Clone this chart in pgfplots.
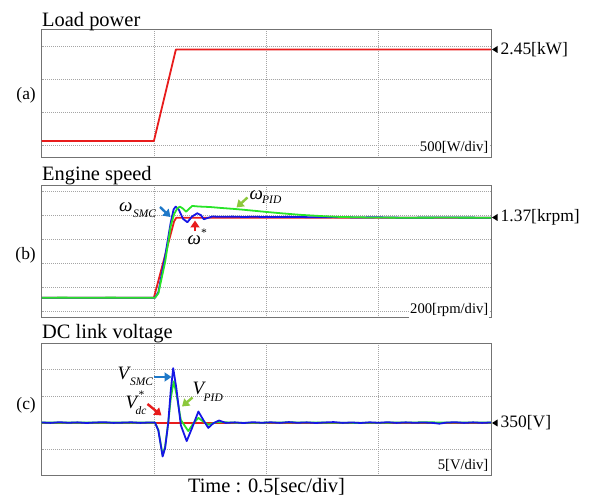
\documentclass[border=0pt]{standalone}
\usepackage{fontspec}
\setmainfont{Liberation Serif}
\usepackage{pgfplots}
\pgfplotsset{compat=1.18}
\usetikzlibrary{arrows.meta}
\definecolor{tred}{RGB}{232,28,28}
\definecolor{tblue}{RGB}{22,22,230}
\definecolor{tgreen}{RGB}{40,228,40}
\definecolor{ablue}{RGB}{30,120,200}
\definecolor{agreen}{RGB}{140,200,60}
\definecolor{boxgray}{RGB}{115,115,115}
\definecolor{gridgray}{RGB}{165,165,165}
\pgfplotsset{
  osc/.style={
    scale only axis, width=449.5bp, anchor=south west,
    xmin=0, xmax=2, xtick={0.5,1,1.5},
    xticklabels={}, yticklabels={},
    tick label style={opacity=0},
    tick style={draw=none},
    grid=major,
    major grid style={gridgray, dash pattern=on 0.6pt off 1.4pt, line width=0.6pt},
    axis line style={boxgray, line width=0.9pt},
  },
  tr/.style={line width=1.8pt, line join=round},
}
\newcommand\tfont{\fontsize{20.5}{22}\selectfont}
\newcommand\rfont{\fontsize{17.5}{19}\selectfont}
\newcommand\dfont{\fontsize{14.7}{16}\selectfont}
\newcommand\gfont{\fontsize{19}{20}\selectfont\itshape}
\newcommand\sfont{\fontsize{11.5}{12}\selectfont\itshape}
\tikzset{ann/.style={line width=2.4bp, -{Triangle[length=7bp,width=9bp]}}}
\begin{document}
\begin{tikzpicture}[x=1bp,y=1bp]
\path[use as bounding box] (0,0) rectangle (592,497);

% ---------- (a) Load power ----------
\begin{axis}[osc, at={(41.5bp,339.7bp)}, height=128bp, ymin=0.814, ymax=2.755, ytick={1,1.5,2,2.5}]
\addplot[tr, tred] coordinates {(0,1.06) (0.5,1.06) (0.598,2.45) (2,2.45)};
\end{axis}

% ---------- (b) Engine speed ----------
\begin{axis}[osc, at={(41.5bp,179.5bp)}, height=132.5bp, ymin=0.5383, ymax=1.6425,
  ytick={0.588,0.788,0.988,1.188,1.388,1.588}]
\addplot[tr, tred] coordinates {(0,0.703) (0.5,0.703) (0.59,1.34) (0.6,1.37) (2,1.37)};
\addplot[tr, tblue] coordinates {
(0,0.703) (0.505,0.703) (0.52,0.75) (0.55,1.05) (0.575,1.33) (0.588,1.44) (0.597,1.462)
(0.61,1.44) (0.63,1.36) (0.649,1.332) (0.67,1.38) (0.693,1.407) (0.71,1.39) (0.722,1.357)
(0.74,1.368) (0.76,1.38) (0.8,1.377) (0.85,1.379) (0.9,1.376) (0.95,1.378) (1.0,1.375)
(1.1,1.377) (1.2,1.374) (1.3,1.375) (1.4,1.372) (1.5,1.373) (1.6,1.37) (1.8,1.371) (2,1.37)};
\addplot[tr, tgreen] coordinates {
(0,0.703) (0.1,0.704) (0.2,0.702) (0.3,0.704) (0.4,0.703) (0.505,0.703) (0.52,0.74)
(0.55,1.0) (0.575,1.3) (0.59,1.40) (0.605,1.45) (0.616,1.462) (0.63,1.445) (0.643,1.42)
(0.657,1.445) (0.671,1.468) (0.7,1.463) (0.75,1.459) (0.8,1.451) (0.85,1.444) (0.9,1.436)
(0.95,1.427) (1.0,1.418) (1.065,1.407) (1.15,1.394) (1.25,1.383) (1.33,1.376) (1.45,1.372)
(1.6,1.370) (1.8,1.371) (2,1.370)};
\end{axis}

% ---------- (c) DC link voltage ----------
\begin{axis}[osc, at={(41.5bp,21.5bp)}, height=132.2bp, ymin=340, ymax=365, ytick={345,350,355,360}]
\addplot[tr, tred] coordinates {(0,350) (2,350)};
\addplot[tr, tgreen] coordinates {
(0,350) (0.505,350) (0.52,348.6) (0.539,343.8) (0.55,345.5) (0.564,350) (0.575,354.5)
(0.588,357.8) (0.6,355.5) (0.62,350.5) (0.653,348.4) (0.675,349.8) (0.698,350.9)
(0.72,350.2) (0.742,349.6) (0.78,350.1) (0.9,349.95) (1.1,350.05) (1.4,349.95) (1.7,350.05) (2,350)};
\addplot[tr, tblue] coordinates {
(0,350.03) (0.04,349.95) (0.08,350.08) (0.12,349.97) (0.16,350.05) (0.2,349.93) (0.24,350.03)
(0.28,350.08) (0.32,349.95) (0.36,350.0) (0.4,350.06) (0.44,349.95) (0.48,350.03)
(0.505,350) (0.52,348.5) (0.539,343.6) (0.55,345.2) (0.564,350) (0.575,356) (0.586,360.3)
(0.6,356.5) (0.62,349.5) (0.646,346.5) (0.67,349) (0.698,352.1) (0.72,350.5) (0.742,349.0)
(0.765,349.9) (0.79,350.4) (0.82,349.95) (0.86,350.05) (0.9,349.92) (0.94,350.08) (0.98,349.97)
(1.02,350.06) (1.06,349.95) (1.1,350.1) (1.14,349.97) (1.18,350.05) (1.22,349.93) (1.26,350.03)
(1.3,350.1) (1.34,349.95) (1.38,350.03) (1.42,349.93) (1.46,350.06) (1.5,349.97) (1.54,350.08)
(1.58,349.95) (1.62,350.05) (1.66,349.97) (1.7,350.03) (1.74,349.95) (1.77,349.8) (1.8,350.0)
(1.84,350.08) (1.88,349.95) (1.92,350.05) (1.96,349.95) (2,350.03)};
\end{axis}

% ---------- titles ----------
\node[anchor=base west, inner sep=0, font=\tfont] at (42,497-27) {Load power};
\node[anchor=base west, inner sep=0, font=\tfont] at (42,497-180.5) {Engine speed};
\node[anchor=base west, inner sep=0, font=\tfont] at (42,497-339) {DC link voltage};
\node[anchor=base, inner sep=0, font=\tfont] at (266.5,497-493) {Time : 0.5[sec/div]};

% ---------- panel letters ----------
\node[anchor=east, inner sep=0, font=\rfont] at (36,497-95) {(a)};
\node[anchor=east, inner sep=0, font=\rfont] at (36,497-255) {(b)};
\node[anchor=east, inner sep=0, font=\rfont] at (36,497-405) {(c)};

% ---------- div labels ----------
\node[anchor=base east, inner sep=1pt, fill=white, font=\dfont] at (489.5,497-151.7) {500[W/div]};
\node[anchor=base east, inner sep=1pt, fill=white, font=\dfont] at (489.5,497-313.5) {200[rpm/div]};
\node[anchor=base east, inner sep=1pt, fill=white, font=\dfont] at (489.5,497-470) {5[V/div]};

% ---------- level markers ----------
\fill (492,497-49.5) -- (497.5,497-46) -- (497.5,497-53) -- cycle;
\node[anchor=west, inner sep=0, font=\rfont] at (500.5,497-49.5) {2.45[kW]};
\fill (492,497-217.5) -- (497.5,497-214) -- (497.5,497-221) -- cycle;
\node[anchor=west, inner sep=0, font=\rfont] at (500.5,497-217.5) {1.37[krpm]};
\fill (492,497-423) -- (497.5,497-419.5) -- (497.5,497-426.5) -- cycle;
\node[anchor=west, inner sep=0, font=\rfont] at (500.5,497-423) {350[V]};

% ---------- annotations (b) ----------
\node[anchor=base west, inner sep=0, font=\gfont] at (119,497-212) {ω};
\node[anchor=base west, inner sep=0, font=\sfont] at (133,497-217.5) {SMC};
\draw[ablue, ann] (160,497-207) -- (170.5,497-217);
\node[anchor=base west, inner sep=0, font=\gfont] at (187.5,497-245) {ω};
\node[anchor=base west, inner sep=0, font=\sfont] at (200.5,497-236.5) {*};
\draw[tred, ann] (195,497-231.5) -- (195,497-220.5);
\node[anchor=base west, inner sep=0, font=\gfont] at (249.5,497-199.5) {ω};
\node[anchor=base west, inner sep=0, font=\sfont] at (262,497-203.5) {PID};
\draw[agreen, ann] (247.5,497-197.5) -- (236.5,497-207.5);

% ---------- annotations (c) ----------
\node[anchor=base west, inner sep=0, font=\gfont] at (117.5,497-380) {V};
\node[anchor=base west, inner sep=0, font=\sfont] at (130,497-385.5) {SMC};
\draw[ablue, ann] (154,497-377) -- (171.5,497-377);
\node[anchor=base west, inner sep=0, font=\gfont] at (125.5,497-409) {V};
\node[anchor=base west, inner sep=0, font=\sfont] at (138,497-399) {*};
\node[anchor=base west, inner sep=0, font=\sfont] at (135.5,497-414.5) {dc};
\draw[tred, ann] (147.5,497-404) -- (161.5,497-415.5);
\node[anchor=base west, inner sep=0, font=\gfont] at (192.5,497-395) {V};
\node[anchor=base west, inner sep=0, font=\sfont] at (203.5,497-401.5) {PID};
\draw[agreen, ann] (192.5,497-397.5) -- (182,497-406.5);
\end{tikzpicture}
\end{document}
